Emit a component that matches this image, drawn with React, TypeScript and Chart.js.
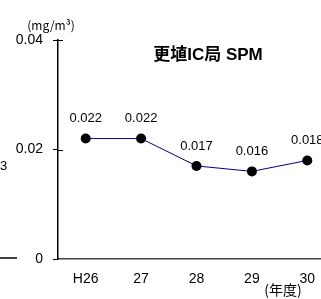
import { useEffect, useRef } from 'react';
import { Chart, registerables } from 'chart.js';

Chart.register(...registerables);

const categories = ['H26', '27', '28', '29', '30'];
const spmValues = [0.022, 0.022, 0.017, 0.016, 0.018];
const yMin = 0;
const yMax = 0.04;
const yStep = 0.02;
const chartTitle = '更埴IC局 SPM';
const yUnitLabel = '(mg/m³)';
const xUnitLabel = '(年度)';

const LATIN = "'Liberation Sans', Arial, 'Noto Sans CJK JP', sans-serif";
const CJK = "'Liberation Sans', 'Noto Sans CJK JP', sans-serif";
const JP = "'Noto Sans CJK JP', sans-serif";

const annotatePlugin = {
  id: 'annotate',
  afterDraw(chart: any) {
    const ctx = chart.ctx;
    const area = chart.chartArea;
    const yScale = chart.scales.y;
    ctx.save();
    // inner half of cross ticks on the y axis
    ctx.strokeStyle = '#000';
    ctx.lineWidth = 1;
    yScale.ticks.forEach((t: any) => {
      if (t.value === 0) return;
      const py = Math.round(yScale.getPixelForValue(t.value)) + 0.5;
      ctx.beginPath();
      ctx.moveTo(area.left, py);
      ctx.lineTo(area.left + 5, py);
      ctx.stroke();
    });
    // data labels
    const meta = chart.getDatasetMeta(0);
    ctx.fillStyle = '#000';
    ctx.font = `13px ${LATIN}`;
    ctx.textAlign = 'center';
    ctx.textBaseline = 'middle';
    meta.data.forEach((pt: any, i: number) => {
      ctx.fillText(spmValues[i].toFixed(3), pt.x, pt.y - 20);
    });
    // title
    ctx.font = `bold 17px ${CJK}`;
    ctx.fillText(chartTitle, 208, 55);
    // y unit
    ctx.font = `12px ${JP}`;
    ctx.fillText(yUnitLabel, 51, 25);
    // x unit
    ctx.font = `14px ${JP}`;
    ctx.fillText(xUnitLabel, 283, 290);
    ctx.restore();
  },
};

export default function App() {
  const ref = useRef<HTMLCanvasElement | null>(null);

  useEffect(() => {
    if (!ref.current) return;
    const chart = new Chart(ref.current, {
      type: 'line',
      data: {
        labels: categories,
        datasets: [
          {
            data: spmValues,
            borderColor: '#000080',
            borderWidth: 1,
            pointRadius: 5,
            pointHoverRadius: 5,
            pointBackgroundColor: '#000',
            pointBorderColor: '#000',
            pointBorderWidth: 0,
            tension: 0,
          },
        ],
      },
      options: {
        animation: false,
        responsive: false,
        devicePixelRatio: 1,
        layout: { padding: { top: 40, left: 0, right: 0, bottom: 0 } },
        plugins: {
          legend: { display: false },
          tooltip: { enabled: false },
          title: { display: false },
        },
        scales: {
          x: {
            type: 'category',
            offset: true,
            grid: { display: false, drawTicks: false },
            border: { display: true, color: '#404040', width: 1.5 },
            ticks: {
              color: '#000',
              font: { family: LATIN, size: 14 },
              padding: 12,
              maxRotation: 0,
              autoSkip: false,
            },
            afterFit: (s: any) => {
              s.height = 40;
            },
          },
          y: {
            min: yMin,
            max: yMax,
            grid: {
              display: true,
              drawOnChartArea: false,
              drawTicks: true,
              tickLength: 5,
              color: '#000',
              lineWidth: 1,
            },
            border: { display: true, color: '#000', width: 1.5 },
            ticks: {
              stepSize: yStep,
              color: '#000',
              font: { family: LATIN, size: 14 },
              padding: 10,
              callback: (v: any) => (Number(v) === 0 ? '0' : Number(v).toFixed(2)),
            },
            afterFit: (s: any) => {
              s.width = 58;
            },
          },
        },
      },
      plugins: [annotatePlugin],
    } as any);
    return () => chart.destroy();
  }, []);

  return (
    <div
      style={{
        position: 'fixed',
        left: 0,
        top: 0,
        width: 321,
        height: 299,
        overflow: 'hidden',
        background: '#fff',
      }}
    >
      <canvas ref={ref} width={340} height={299} style={{ width: 340, height: 299, display: 'block' }} />
      <div
        style={{
          position: 'absolute',
          left: 0,
          top: 158,
          fontFamily: LATIN,
          fontSize: 13,
          lineHeight: '16px',
          color: '#000',
        }}
      >
        3
      </div>
      <div
        style={{
          position: 'absolute',
          left: 0,
          top: 257,
          width: 17,
          height: 1.5,
          background: '#404040',
        }}
      />
    </div>
  );
}
